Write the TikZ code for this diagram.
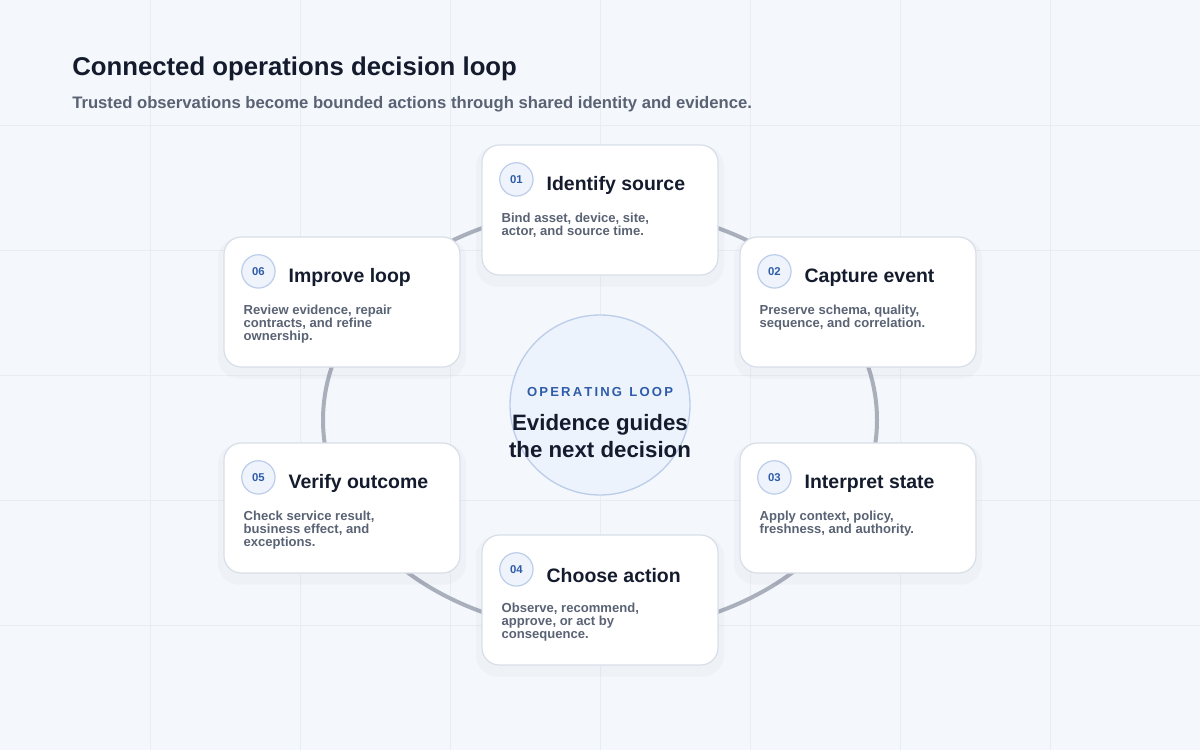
\documentclass[tikz,border=0pt]{standalone}
\usepackage{fontspec}
\setmainfont{Liberation Sans}
\usetikzlibrary{calc}
\definecolor{bgpage}{HTML}{F4F7FB}
\definecolor{gridline}{HTML}{E8EDF4}
\definecolor{ringgray}{HTML}{A9AFBB}
\definecolor{cardline}{HTML}{D8DFE9}
\definecolor{inkdark}{HTML}{141B2D}
\definecolor{inkgray}{HTML}{5A6374}
\definecolor{accent}{HTML}{2F5CA8}
\definecolor{badgefill}{HTML}{EEF3FC}
\definecolor{badgeline}{HTML}{BCCDEA}
\definecolor{hubfill}{HTML}{EDF3FD}
\tikzset{
  card/.style={draw=cardline, line width=0.9pt, fill=white, rounded corners=13pt,
    minimum width=177pt, minimum height=97.5pt},
  cardshadow/.style={fill=black!70!blue, opacity=0.025, rounded corners=16pt,
    minimum width=186pt, minimum height=106pt},
  badge/.style={circle, draw=badgeline, line width=0.9pt, fill=badgefill,
    minimum size=25pt, inner sep=0pt, text=accent, font=\bfseries\fontsize{8.5}{10}\selectfont},
  cardtitle/.style={anchor=west, inner sep=0pt, text=inkdark,
    font=\bfseries\fontsize{14.6}{17}\selectfont},
  cardbody/.style={anchor=north west, inner sep=0pt, align=left, text=inkgray,
    font=\bfseries\fontsize{9.8}{10}\selectfont}
}
\begin{document}
\begin{tikzpicture}[x=0.75pt, y=-0.75pt]
  \useasboundingbox (0,0) rectangle (1200,750);
  \fill[bgpage] (0,0) rectangle (1200,750);
  % faint grid
  \foreach \gx in {150,300,...,1050}
    \draw[gridline, line width=0.6pt] (\gx,0) -- (\gx,750);
  \foreach \gy in {125,250,...,625}
    \draw[gridline, line width=0.6pt] (0,\gy) -- (1200,\gy);

  \node[anchor=west, inner sep=0pt, text=inkdark, font=\bfseries\fontsize{19.3}{22}\selectfont]
    (title) at (72,69) {Connected operations decision loop};
  \node[anchor=west, inner sep=0pt, text=inkgray, font=\bfseries\fontsize{12.5}{14}\selectfont]
    (subtitle) at (72,104) {Trusted observations become bounded actions through shared identity and evidence.};

  % loop ring and hub
  \draw[ringgray, line width=3pt] (600,420) ellipse[x radius=277, y radius=212];
  \node[circle, draw=badgeline, line width=1pt, fill=hubfill, minimum size=135pt] (hub) at (600,405) {};
  \node[text=accent, inner sep=0pt, font=\bfseries\fontsize{9.8}{12}\selectfont] (hubtag) at (600,392)
    {O\,P\,E\,R\,A\,T\,I\,N\,G\ \ L\,O\,O\,P};
  \node[text=inkdark, inner sep=0pt, align=center, font=\bfseries\fontsize{16.7}{20}\selectfont]
    (hubtext) at (600,436) {Evidence guides\\the next decision};

  % steps
  \foreach \n/\cx/\cy/\ttl/\txt in {
      01/600/210/{Identify source}/{Bind asset, device, site,\\actor, and source time.},
      02/858/302/{Capture event}/{Preserve schema, quality,\\sequence, and correlation.},
      03/858/508/{Interpret state}/{Apply context, policy,\\freshness, and authority.},
      04/600/600/{Choose action}/{Observe, recommend,\\approve, or act by\\consequence.},
      05/342/508/{Verify outcome}/{Check service result,\\business effect, and\\exceptions.},
      06/342/302/{Improve loop}/{Review evidence, repair\\contracts, and refine\\ownership.}} {
    \node[cardshadow] at (\cx,\cy+6) {};
    \node[card] (c\n) at (\cx,\cy) {};
    \node[badge] (b\n) at ($(c\n.north west)+(35,35)$) {\n};
    \node[cardtitle] (t\n) at ($(c\n.north west)+(65,41)$) {\ttl};
    \node[cardbody] (d\n) at ($(c\n.north west)+(20,68)$) {\txt};
  }
\end{tikzpicture}
\end{document}
